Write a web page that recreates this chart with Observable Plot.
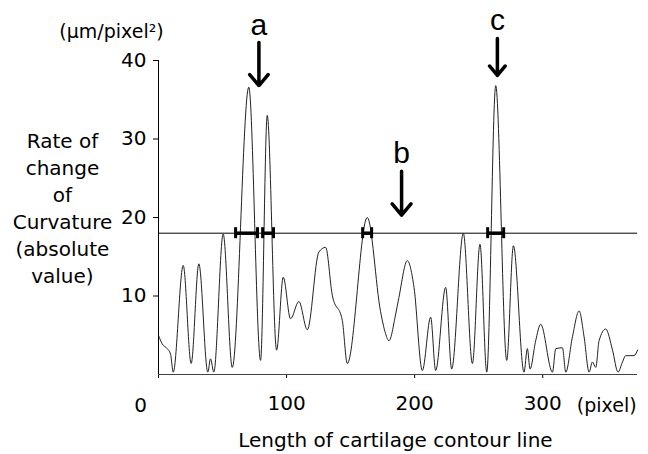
<!DOCTYPE html>
<html>
<head>
<meta charset="utf-8">
<script src="https://cdn.jsdelivr.net/npm/d3@7"></script>
<script src="https://cdn.jsdelivr.net/npm/@observablehq/plot@0.6"></script>
<style>
  html, body { margin: 0; padding: 0; background: #fff; }
</style>
</head>
<body>
<div id="chart"></div>
<script>
// Curve: rate of change of curvature (absolute value) along the contour
const curveX = [0, 2.9, 6.8, 9.4, 11.5, 19.3, 25.5, 31.5, 38.5, 40.6, 43.2, 50.5, 57.6, 70.5, 79.7, 84.9, 92.2, 97.4, 103.1, 109.6, 116.2, 125.2, 130.5, 135.7, 143.5, 147.4, 163.0, 173.4, 177.3, 179.9, 185.2, 187.7, 194.3, 199.5, 206.0, 212.5, 216.4, 224.2, 228.9, 238.0, 245.1, 251.0, 256.3, 263.3, 271.9, 277.1, 285.4, 288.0, 290.1, 294.5, 298.4, 307.6, 310.2, 315.4, 318.0, 323.2, 328.4, 332.3, 336.2, 338.8, 341.4, 344.0, 349.2, 354.5, 358.8, 362.3, 364.8, 371.3, 374.0];
const curveY = [5.0, 3.9, 3.3, 2.6, 0.3, 13.9, 1.4, 14.1, 0.3, 2.0, 0.3, 17.9, 0.9, 36.6, 1.8, 33.0, 3.1, 12.4, 7.1, 9.3, 5.7, 15.6, 16.2, 10.1, 6.9, 1.4, 20.0, 8.0, 5.2, 4.3, 7.7, 9.8, 14.5, 11.1, 0.5, 7.3, 0.5, 11.1, 0.7, 18.0, 1.4, 16.6, 0.3, 36.8, 1.8, 16.4, 0.3, 3.3, 0.7, 4.3, 6.4, 0.3, 3.3, 3.4, 0.3, 4.8, 8.1, 4.8, 0.3, 1.6, 0.9, 4.3, 5.8, 3.1, 0.3, 1.6, 2.4, 2.4, 3.1];

const threshold = 18;
// Intervals above threshold (x start, x end)
const intervalStart = [60.2, 81.3, 159.4, 257.0];
const intervalEnd   = [77.3, 89.8, 166.4, 269.5];

// Arrows
const arrowLabels = ["a", "b", "c"];
const arrowX  = [78.4, 189.8, 264.6];
const arrowTop = [42.3, 25.9, 42.8];
const arrowTip = [36.8, 20.3, 38.1];
const labelY  = [44.5, 28.2, 45.1];

const xTicks = [0, 100, 200, 300];
const yTicks = [10, 20, 30, 40];

const curve = curveX.map((x, i) => ({x, y: curveY[i]}));
const intervals = intervalStart.map((s, i) => ({s, e: intervalEnd[i]}));
const caps = intervals.flatMap(d => [d.s, d.e]);
const arrows = arrowLabels.map((l, i) => ({l, x: arrowX[i], top: arrowTop[i], tip: arrowTip[i], ly: labelY[i]}));

const font = "DejaVu Sans, Liberation Sans, Arial, sans-serif";

const chart = Plot.plot({
  width: 648,
  height: 454,
  marginLeft: 158,
  marginRight: 11,
  marginTop: 60,
  marginBottom: 80,
  x: {domain: [0, 374]},
  y: {domain: [0, 40]},
  style: {fontFamily: font, fontSize: "20px", color: "#000", background: "#fff", overflow: "visible"},
  marks: [
    Plot.axisY({ticks: yTicks, tickSize: 5, tickPadding: 7, label: null, fontSize: 20, strokeWidth: 1}),
    Plot.axisX({ticks: xTicks, tickSize: 4, tickPadding: 17, label: null, fontSize: 20, tickFormat: d => d === 0 ? "" : d}),
    Plot.ruleX([0], {y1: 0, y2: 40, stroke: "#000", strokeWidth: 1}),
    Plot.ruleY([0], {stroke: "#444", strokeWidth: 1}),
    Plot.ruleY([threshold], {stroke: "#000", strokeWidth: 1}),
    Plot.line(curve, {x: "x", y: "y", curve: "monotone-x", stroke: "#222", strokeWidth: 1}),
    Plot.ruleY(intervals, {x1: "s", x2: "e", y: () => threshold, stroke: "#000", strokeWidth: 3.5}),
    Plot.ruleX(caps, {x: d => d, y1: threshold - 0.7, y2: threshold + 0.7, stroke: "#000", strokeWidth: 3}),
    Plot.arrow(arrows, {x1: "x", x2: "x", y1: "top", y2: "tip", stroke: "#000", strokeWidth: 3.5, headLength: 18, headAngle: 80}),
    Plot.text(arrows, {x: "x", y: "ly", text: "l", fontSize: 30, fontFamily: "Liberation Sans, Arial, sans-serif", fill: "#000"}),
    Plot.text(["0"], {x: -14, y: -3.95, text: d => d, fontSize: 20}),
    Plot.text(["(pixel)"], {x: 350, y: -3.95, text: d => d, fontSize: 19}),
    Plot.text(["Length of cartilage contour line"], {x: 185, y: -8.4, text: d => d, fontSize: 20}),
    Plot.text(["(μm/pixel²)"], {x: -36.7, y: 43.7, text: d => d, fontSize: 19}),
    Plot.text(["Rate of\nchange\nof\nCurvature\n(absolute\nvalue)"], {x: -75, y: 21.3, text: d => d, fontSize: 20, lineHeight: 1.35})
  ]
});
document.getElementById("chart").appendChild(chart);
</script>
</body>
</html>
